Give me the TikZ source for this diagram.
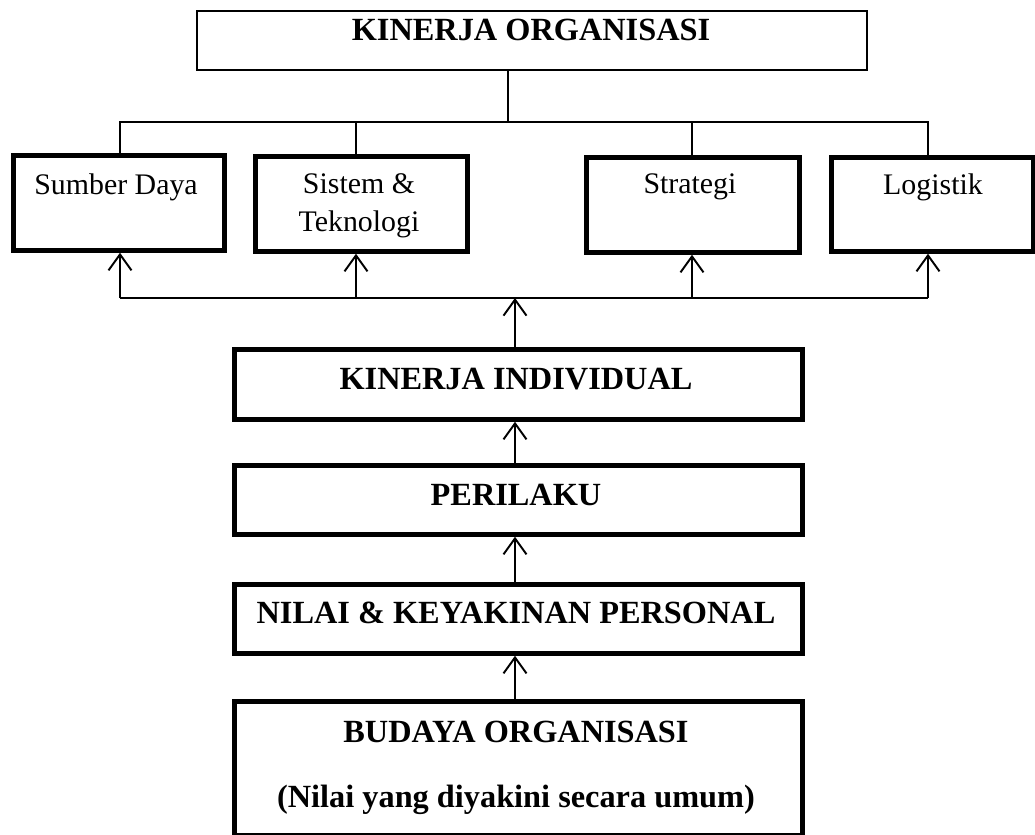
\documentclass[tikz,border=0pt]{standalone}
\usepackage{fontspec}
\setmainfont{Liberation Serif}
\usetikzlibrary{arrows.meta}

\begin{document}
\begin{tikzpicture}[x=0.02cm,y=-0.02cm,
	thinbox/.style={draw, line width=1pt, anchor=north west, inner sep=0pt},
	thickbox/.style={draw, line width=2.7pt, anchor=north west, inner sep=0pt},
	boldtext/.style={font=\fontsize{18.4}{21}\selectfont\bfseries, inner sep=0pt},
	plaintext/.style={font=\fontsize{17}{21.6}\selectfont, inner sep=0pt, align=center},
	link/.style={line width=0.9pt},
	uparrow/.style={line width=1.1pt, -{Straight Barb[length=0.32cm,width=0.46cm,line width=1.1pt]}}]
					\useasboundingbox (0,0) rectangle (1035,835);

					% Kinerja organisasi
					\node[thinbox, minimum width=13.4cm, minimum height=1.18cm] (org) at (196,10) {};
					\node[boldtext] (orgtxt) at (531,30) {KINERJA ORGANISASI};

					% Faktor organisasi
					\node[thickbox, minimum width=4.22cm, minimum height=1.9cm] (sd) at (11,153) {};
					\node[thickbox, minimum width=4.24cm, minimum height=1.9cm] (st) at (253,154) {};
					\node[thickbox, minimum width=4.26cm, minimum height=1.9cm] (sg) at (584,155) {};
					\node[thickbox, minimum width=4.04cm, minimum height=1.88cm] (lg) at (829,155) {};
					\node[plaintext] (sdtxt) at (116,187) {Sumber Daya};
					\node[plaintext] (sttxt) at (359,206) {Sistem \&\\Teknologi};
					\node[plaintext] (sgtxt) at (690,187) {Strategi};
					\node[plaintext] (lgtxt) at (933,187) {Logistik};

					% Garis cabang atas
					\coordinate (top) at (508,122);
					\draw[link] (org.south -| top) -- (top);
					\draw[link] (sd.north -| 120,0) |- (top) -| (lg.north -| 928,0);
					\draw[link] (st.north -| 356,0) -- (356,122);
					\draw[link] (sg.north -| 692,0) -- (692,122);

					% Kinerja individual ke bawah
					\node[thickbox, minimum width=11.36cm, minimum height=1.4cm] (ki) at (232,347) {};
					\node[boldtext] (kitxt) at (516,379) {KINERJA INDIVIDUAL};
					\node[thickbox, minimum width=11.36cm, minimum height=1.38cm] (pr) at (232,463) {};
					\node[boldtext] (prtxt) at (516,495) {PERILAKU};
					\node[thickbox, minimum width=11.36cm, minimum height=1.38cm] (nk) at (232,582) {};
					\node[boldtext] (nktxt) at (516,613) {NILAI \& KEYAKINAN PERSONAL};
					\node[thickbox, minimum width=11.36cm, minimum height=2.68cm] (bo) at (232,699) {};
					\node[boldtext] (botxt) at (516,732) {BUDAYA ORGANISASI};
					\node[boldtext] (botxtb) at (516,800) {(Nilai yang diyakini secara umum)};

					% Garis cabang bawah dan panah
					\coordinate (bus) at (515,298);
					\draw[link] (120,298) -- (928,298);
					\draw[uparrow] (120,298) -- (sd.south -| 120,0);
					\draw[uparrow] (356,298) -- (st.south -| 356,0);
					\draw[uparrow] (692,298) -- (sg.south -| 692,0);
					\draw[uparrow] (928,298) -- (lg.south -| 928,0);
					\draw[uparrow] (ki.north -| bus) -- (bus);
					\draw[uparrow] (pr.north -| bus) -- (ki.south -| bus);
					\draw[uparrow] (nk.north -| bus) -- (pr.south -| bus);
					\draw[uparrow] (bo.north -| bus) -- (nk.south -| bus);
\end{tikzpicture}
\end{document}
